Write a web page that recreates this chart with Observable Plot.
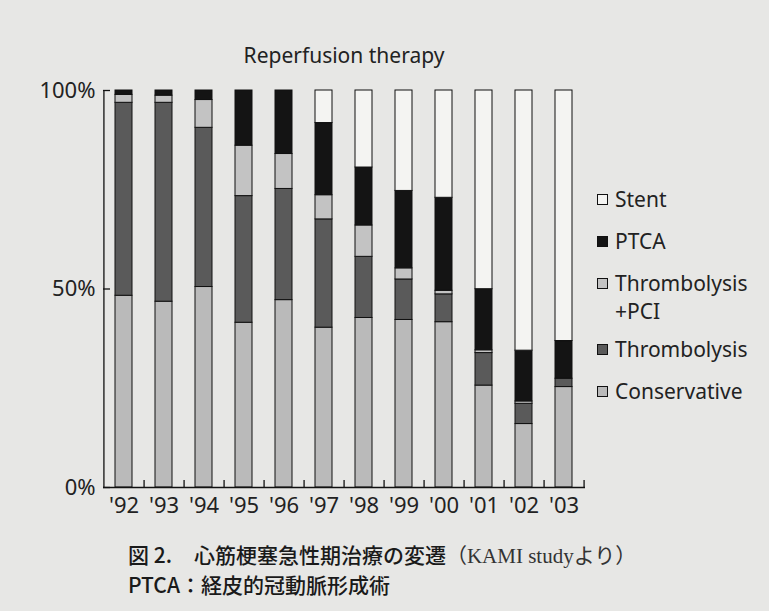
<!DOCTYPE html>
<html>
<head>
<meta charset="utf-8">
<script src="https://cdn.jsdelivr.net/npm/d3@7"></script>
<script src="https://cdn.jsdelivr.net/npm/@observablehq/plot@0.6"></script>
<style>
  body { margin: 0; background: #e7e7e5; color: #222; font-family: "Noto Sans", sans-serif; }
  #wrap { position: relative; width: 769px; height: 611px; overflow: hidden; }
  #chart { position: absolute; left: 0; top: 0; }
  #title { position: absolute; left: 0; width: 688px; top: 40px; text-align: center; font-size: 21px; line-height: 30px; }
  #legend { position: absolute; left: 597px; top: 187px; font-size: 21px; line-height: 24px; }
  .item { position: relative; padding-left: 18px; margin-bottom: 18px; }
  .item.two { line-height: 28px; margin-top: -2px; margin-bottom: 12px; }
  .item.two .sw { top: 9px; }
  .sw { position: absolute; left: 0; top: 7px; width: 9px; height: 9px; border: 1px solid #111; }
  #caption { position: absolute; left: 128px; top: 540px; font-family: "Noto Sans CJK JP", sans-serif; font-weight: 500; font-size: 21px; line-height: 28px; color: #1a1a1a; white-space: nowrap; }
  .serif { font-family: "Liberation Serif", "Noto Sans CJK JP", serif; font-weight: normal; color: #333; }
</style>
</head>
<body>
<div id="wrap">
  <div id="chart"></div>
  <div id="title">Reperfusion therapy</div>
  <div id="legend"></div>
  <div id="caption">
    <div>図 2.<span style="margin-left:22px">心筋梗塞急性期治療の変遷</span><span class="serif">（KAMI studyより）</span></div>
    <div>PTCA：経皮的冠動脈形成術</div>
  </div>
</div>
<script>
// ---- data (percent of patients per year) ----
const years = ["92","93","94","95","96","97","98","99","00","01","02","03"];
const therapies = ["Conservative", "Thrombolysis", "Thrombolysis +PCI", "PTCA", "Stent"];
const conservative  = [48.3, 46.8, 50.5, 41.5, 47.2, 40.3, 42.7, 42.2, 41.6, 25.7, 16.0, 25.3];
const thrombolysis  = [48.6, 50.1, 40.1, 31.9, 28.0, 27.3, 15.4, 10.2,  7.0,  8.2,  5.1,  2.1];
const thrombPCI     = [ 2.0,  1.8,  7.0, 12.7,  8.8,  6.1,  7.9,  2.8,  0.9,  0.7,  0.6,  0.0];
const ptca          = [ 1.1,  1.3,  2.4, 13.9, 16.0, 18.2, 14.6, 19.5, 23.4, 15.4, 12.8,  9.5];
const stent         = [ 0.0,  0.0,  0.0,  0.0,  0.0,  8.2, 19.4, 25.3, 27.0, 50.1, 65.6, 63.1];
const yTicks = [0, 0.5, 1];

// ---- styling ----
const fills = ["#bababa", "#5a5a5a", "#c3c3c3", "#141414", "#f4f4f2"];

const seriesValues = [conservative, thrombolysis, thrombPCI, ptca, stent];
const rows = years.flatMap((yr, i) => therapies.map((t, j) => ({year: yr, therapy: t, value: seriesValues[j][i]})));

const W = 769, H = 530, mL = 103, mR = 184, mT = 90, mB = 43;
const plotW = W - mL - mR, plotH = H - mT - mB;
const step = plotW / years.length;

const chart = Plot.plot({
  width: W, height: H,
  marginLeft: mL, marginRight: mR, marginTop: mT, marginBottom: mB,
  style: {background: "transparent", color: "#222", fontFamily: "Noto Sans, sans-serif"},
  x: {domain: years, paddingInner: 0.57, paddingOuter: 0.285},
  y: {domain: [0, 1]},
  color: {domain: therapies, range: fills},
  marks: [
    Plot.barY(rows, Plot.stackY({x: "year", y: "value", fill: "therapy", order: therapies, offset: "normalize", stroke: "#111", strokeWidth: 1})),
    Plot.ruleY([0], {stroke: "#111", strokeWidth: 1.3}),
    Plot.ruleX([years[0]], {dx: -step / 2, stroke: "#111", strokeWidth: 1.3}),
    Plot.tickX(years, {x: d => d, dx: step / 2, insetTop: plotH - 7, stroke: "#111", strokeWidth: 1.3}),
    Plot.tickY(yTicks, {y: d => d, insetRight: plotW - 7, stroke: "#111", strokeWidth: 1.3}),
    Plot.axisY(yTicks, {tickSize: 0, tickPadding: 8, fontSize: 22, tickFormat: d => Math.round(d * 100) + "%", label: null}),
    Plot.axisX({tickSize: 0, tickPadding: 10, fontSize: 22, tickFormat: d => "'" + d, label: null})
  ]
});
document.getElementById("chart").appendChild(chart);

// legend (top to bottom = stack order reversed)
const legend = document.getElementById("legend");
therapies.map((t, j) => ({t, c: fills[j]})).reverse().forEach(({t, c}) => {
  const div = document.createElement("div");
  div.className = "item" + (t.includes(" ") ? " two" : "");
  div.innerHTML = `<span class="sw" style="background:${c}"></span>` + t.replace(" ", "<br>");
  legend.appendChild(div);
});
</script>
</body>
</html>
